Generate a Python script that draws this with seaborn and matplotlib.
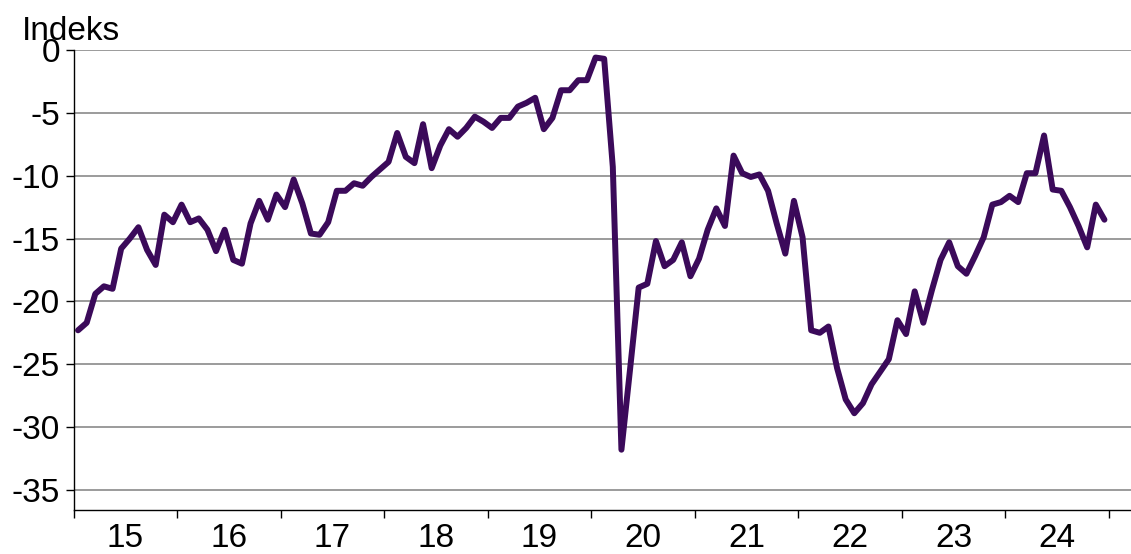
import numpy as np
import pandas as pd
import matplotlib
matplotlib.use("Agg")
import matplotlib.pyplot as plt
import seaborn as sns
from matplotlib.ticker import FixedLocator, NullFormatter

# Indeks, monthly values Jan 2015 - Dec 2024
y2015 = [-22.3, -21.7, -19.4, -18.8, -19.0, -15.8, -15.0, -14.1, -15.9, -17.1, -13.1, -13.7]
y2016 = [-12.3, -13.7, -13.4, -14.3, -16.0, -14.3, -16.7, -17.0, -13.8, -12.0, -13.5, -11.5]
y2017 = [-12.5, -10.3, -12.2, -14.6, -14.7, -13.7, -11.2, -11.2, -10.6, -10.8, -10.1, -9.5]
y2018 = [-8.9, -6.6, -8.5, -9.0, -5.9, -9.4, -7.6, -6.3, -6.9, -6.2, -5.3, -5.7]
y2019 = [-6.2, -5.4, -5.4, -4.5, -4.2, -3.8, -6.3, -5.4, -3.2, -3.2, -2.4, -2.4]
y2020 = [-0.6, -0.7, -9.3, -31.8, -25.4, -18.9, -18.6, -15.2, -17.2, -16.7, -15.3, -18.0]
y2021 = [-16.6, -14.3, -12.6, -14.0, -8.4, -9.8, -10.1, -9.9, -11.2, -13.8, -16.2, -12.0]
y2022 = [-14.9, -22.3, -22.5, -22.0, -25.3, -27.8, -28.9, -28.1, -26.6, -25.6, -24.6, -21.5]
y2023 = [-22.6, -19.2, -21.7, -19.1, -16.7, -15.3, -17.2, -17.8, -16.4, -14.9, -12.3, -12.1]
y2024 = [-11.6, -12.1, -9.8, -9.8, -6.8, -11.1, -11.2, -12.5, -14.0, -15.7, -12.3, -13.5]

years = list(range(2015, 2025))
year_labels = ["15", "16", "17", "18", "19", "20", "21", "22", "23", "24"]
values = y2015 + y2016 + y2017 + y2018 + y2019 + y2020 + y2021 + y2022 + y2023 + y2024

# position each month in the middle of its slot
t = [yr + (m + 0.5) / 12 for yr in years for m in range(12)]
df = pd.DataFrame({"t": t, "indeks": values})

sns.set_style("white")
plt.rcParams["font.family"] = ["Liberation Sans", "DejaVu Sans"]
plt.rcParams["axes.unicode_minus"] = False
plt.rcParams["text.color"] = "black"
plt.rcParams["xtick.color"] = "black"
plt.rcParams["ytick.color"] = "black"

fig = plt.figure(figsize=(11.31, 5.54), dpi=100)
ax = fig.add_axes([0.0652, 0.0794, 0.9348, 0.8303])

sns.lineplot(data=df, x="t", y="indeks", color="#3b0a5a", linewidth=4.3, ax=ax)

ax.set_xlim(2015, 2025.215)
ax.set_ylim(-36.6, 0)
ax.set_yticks(np.arange(-35, 1, 5))
ax.yaxis.grid(True, color="#8a8a8a", linewidth=1.2)
ax.xaxis.grid(False)
ax.set_axisbelow(True)

# year boundaries as ticks, labels centred in between
ax.xaxis.set_major_locator(FixedLocator(years + [2025]))
ax.xaxis.set_major_formatter(NullFormatter())
ax.xaxis.set_minor_locator(FixedLocator([yr + 0.5 for yr in years]))
ax.set_xticklabels(year_labels, minor=True)
ax.tick_params(axis="x", which="major", direction="out", length=6, width=1, color="black", bottom=True)
ax.tick_params(axis="x", which="minor", length=0, pad=9, labelsize=24, labelcolor="black")
ax.tick_params(axis="y", direction="out", length=6, width=1, color="black", left=True,
               labelsize=24, pad=4, labelcolor="black")

for s in ["top", "right"]:
    ax.spines[s].set_visible(False)
for s in ["left", "bottom"]:
    ax.spines[s].set_color("black")
    ax.spines[s].set_linewidth(1.0)

ax.set_xlabel("")
ax.set_ylabel("")
fig.text(22 / 1131, 1 - 40 / 554, "Indeks", fontsize=24, va="baseline", ha="left", color="black")

fig.savefig("out.png", dpi=100)
